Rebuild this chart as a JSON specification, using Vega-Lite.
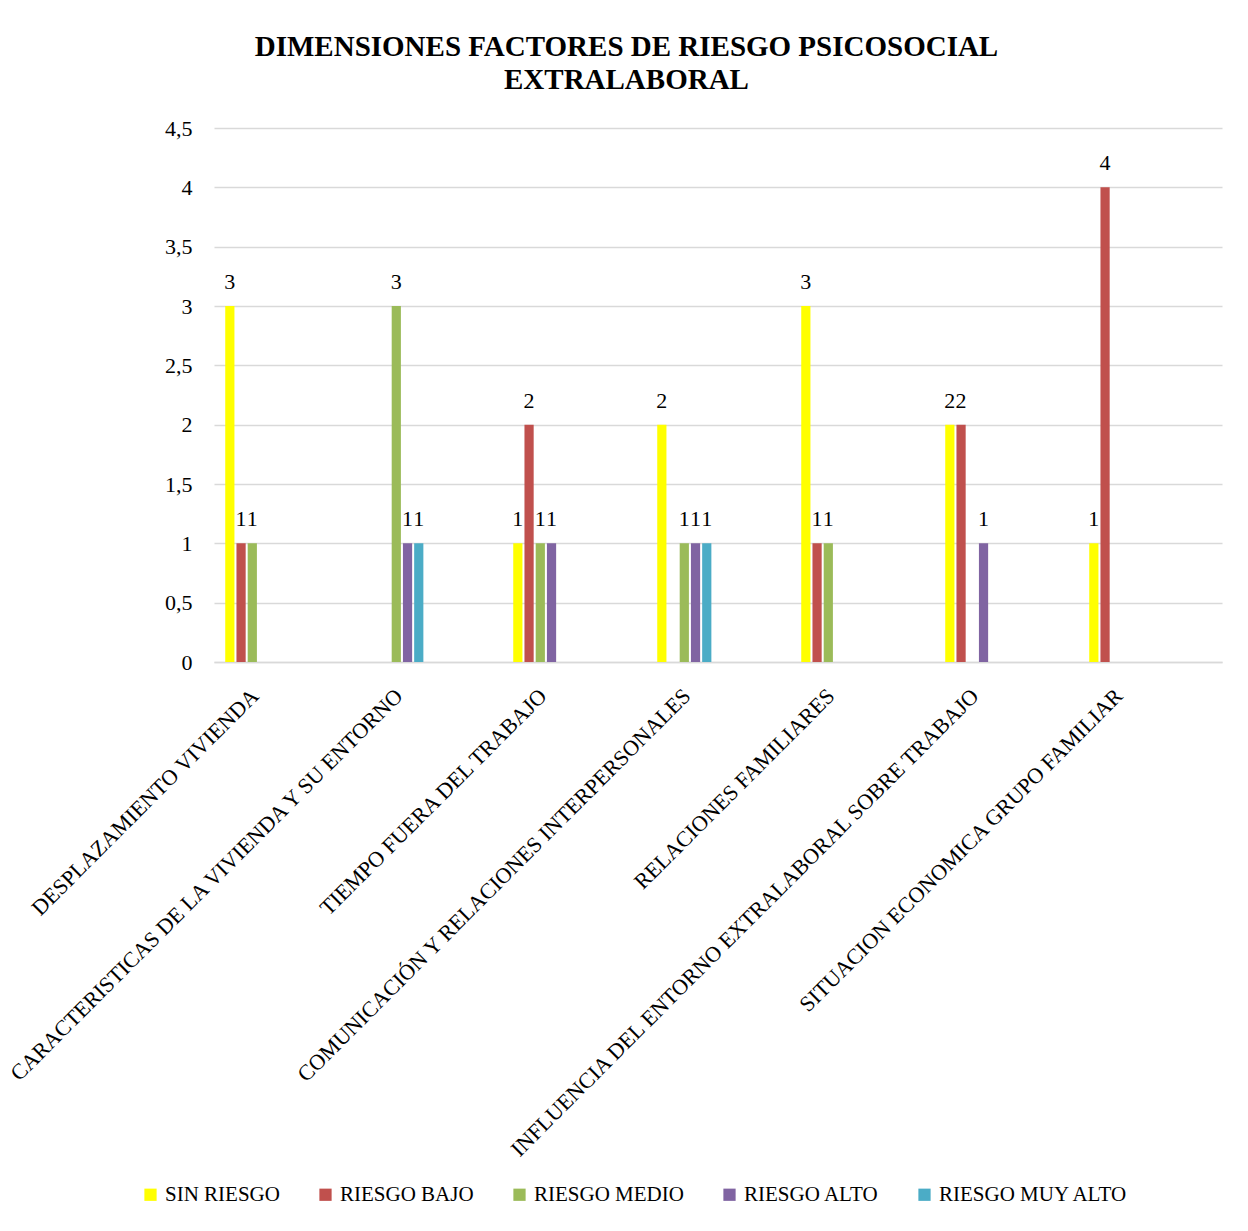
{
  "$schema": "https://vega.github.io/schema/vega-lite/v6.json",
  "width": 1008,
  "height": 534,
  "padding": {"left": 2, "top": 33, "right": 25, "bottom": 10},
  "background": "white",
  "title": {
    "text": ["DIMENSIONES FACTORES DE RIESGO PSICOSOCIAL", "EXTRALABORAL"],
    "font": "Liberation Serif",
    "fontSize": 29,
    "fontWeight": "bold",
    "color": "#000000",
    "anchor": "middle",
    "frame": "bounds",
    "lineHeight": 33,
    "offset": 22,
    "dx": 14
  },
  "data": {
    "values": [
      {"dim": "DESPLAZAMIENTO VIVIENDA", "serie": "SIN RIESGO", "valor": 3},
      {"dim": "DESPLAZAMIENTO VIVIENDA", "serie": "RIESGO BAJO", "valor": 1},
      {"dim": "DESPLAZAMIENTO VIVIENDA", "serie": "RIESGO MEDIO", "valor": 1},
      {"dim": "CARACTERISTICAS DE LA VIVIENDA Y SU ENTORNO", "serie": "RIESGO MEDIO", "valor": 3},
      {"dim": "CARACTERISTICAS DE LA VIVIENDA Y SU ENTORNO", "serie": "RIESGO ALTO", "valor": 1},
      {"dim": "CARACTERISTICAS DE LA VIVIENDA Y SU ENTORNO", "serie": "RIESGO MUY ALTO", "valor": 1},
      {"dim": "TIEMPO FUERA DEL TRABAJO", "serie": "SIN RIESGO", "valor": 1},
      {"dim": "TIEMPO FUERA DEL TRABAJO", "serie": "RIESGO BAJO", "valor": 2},
      {"dim": "TIEMPO FUERA DEL TRABAJO", "serie": "RIESGO MEDIO", "valor": 1},
      {"dim": "TIEMPO FUERA DEL TRABAJO", "serie": "RIESGO ALTO", "valor": 1},
      {"dim": "COMUNICACIÓN Y RELACIONES INTERPERSONALES", "serie": "SIN RIESGO", "valor": 2},
      {"dim": "COMUNICACIÓN Y RELACIONES INTERPERSONALES", "serie": "RIESGO MEDIO", "valor": 1},
      {"dim": "COMUNICACIÓN Y RELACIONES INTERPERSONALES", "serie": "RIESGO ALTO", "valor": 1},
      {"dim": "COMUNICACIÓN Y RELACIONES INTERPERSONALES", "serie": "RIESGO MUY ALTO", "valor": 1},
      {"dim": "RELACIONES FAMILIARES", "serie": "SIN RIESGO", "valor": 3},
      {"dim": "RELACIONES FAMILIARES", "serie": "RIESGO BAJO", "valor": 1},
      {"dim": "RELACIONES FAMILIARES", "serie": "RIESGO MEDIO", "valor": 1},
      {"dim": "INFLUENCIA DEL ENTORNO EXTRALABORAL SOBRE TRABAJO", "serie": "SIN RIESGO", "valor": 2},
      {"dim": "INFLUENCIA DEL ENTORNO EXTRALABORAL SOBRE TRABAJO", "serie": "RIESGO BAJO", "valor": 2},
      {"dim": "INFLUENCIA DEL ENTORNO EXTRALABORAL SOBRE TRABAJO", "serie": "RIESGO ALTO", "valor": 1},
      {"dim": "SITUACION ECONOMICA GRUPO FAMILIAR", "serie": "SIN RIESGO", "valor": 1},
      {"dim": "SITUACION ECONOMICA GRUPO FAMILIAR", "serie": "RIESGO BAJO", "valor": 4}
    ]
  },
  "encoding": {
    "x": {
      "field": "dim",
      "type": "nominal",
      "sort": null,
      "scale": {"paddingInner": 0, "paddingOuter": 0},
      "axis": {
        "title": null,
        "labelAngle": -45,
        "labelAlign": "right",
        "labelBaseline": "middle",
        "labelFont": "Liberation Serif",
        "labelFontSize": 22,
        "labelColor": "#000000",
        "labelOffset": -31,
        "labelPadding": 30,
        "labelLimit": 1000,
        "ticks": false,
        "domain": true,
        "domainColor": "#D9D9D9",
        "domainWidth": 1.5,
        "grid": false
      }
    },
    "xOffset": {
      "field": "serie",
      "type": "nominal",
      "scale": {
        "domain": ["_a", "SIN RIESGO", "RIESGO BAJO", "RIESGO MEDIO", "RIESGO ALTO", "RIESGO MUY ALTO", "_b", "_c", "_d", "_e", "_f", "_g", "_h"],
        "paddingInner": 0.18,
        "paddingOuter": 0
      }
    },
    "y": {
      "field": "valor",
      "type": "quantitative",
      "scale": {"domain": [0, 4.5]},
      "axis": {
        "title": null,
        "values": [0, 0.5, 1, 1.5, 2, 2.5, 3, 3.5, 4, 4.5],
        "labelExpr": "replace(toString(datum.value), '.', ',')",
        "labelFont": "Liberation Serif",
        "labelFontSize": 22,
        "labelColor": "#000000",
        "labelPadding": 22,
        "ticks": false,
        "domain": false,
        "grid": true,
        "gridColor": "#D9D9D9",
        "gridWidth": 1.5
      }
    }
  },
  "layer": [
    {
      "mark": {"type": "bar"},
      "encoding": {
        "color": {
          "field": "serie",
          "type": "nominal",
          "scale": {
            "domain": ["SIN RIESGO", "RIESGO BAJO", "RIESGO MEDIO", "RIESGO ALTO", "RIESGO MUY ALTO"],
            "range": ["#FFFF00", "#C0504D", "#9BBB59", "#8064A2", "#4BACC6"]
          },
          "legend": {
            "title": null,
            "orient": "none",
            "legendX": -74,
            "legendY": 1056,
            "direction": "horizontal",
            "symbolType": "square",
            "symbolSize": 150,
            "symbolStrokeWidth": 0,
            "labelFont": "Liberation Serif",
            "labelFontSize": 21,
            "labelColor": "#000000",
            "columnPadding": 35,
            "labelOffset": 4,
            "labelLimit": 400
          }
        }
      }
    },
    {
      "mark": {
        "type": "text",
        "font": "Liberation Serif",
        "fontSize": 22,
        "color": "#000000",
        "baseline": "middle",
        "dy": -24
      },
      "encoding": {
        "text": {"field": "valor", "type": "quantitative"}
      }
    }
  ],
  "config": {
    "view": {"stroke": null}
  }
}
